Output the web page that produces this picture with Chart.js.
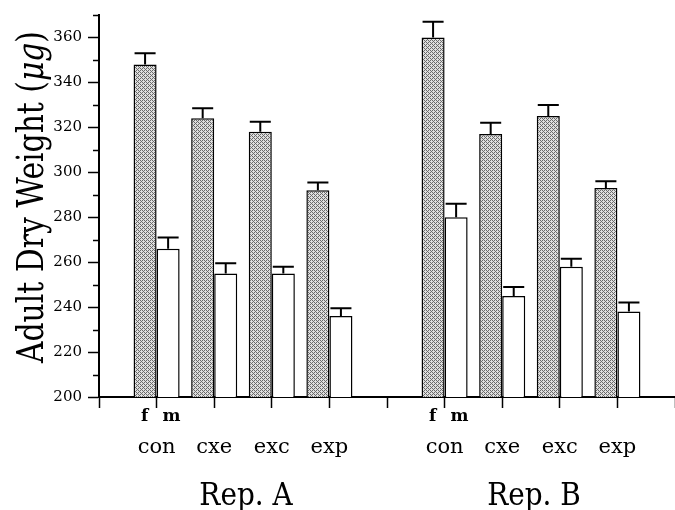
<!DOCTYPE html>
<html>
<head>
<meta charset="utf-8">
<script src="https://cdn.jsdelivr.net/npm/chart.js@4"></script>
<style>
  body { margin: 0; background: #fff; }
  #wrap { width: 675px; height: 510px; }
</style>
</head>
<body>
<div id="wrap"><canvas id="weightChart"></canvas></div>
<script>
var groups = ['con', 'cxe', 'exc', 'exp'];
var reps = ['Rep. A', 'Rep. B'];
var femaleA = [348, 324, 318, 292];
var femaleAErr = [5, 4.5, 4.5, 3.5];
var maleA = [266, 255, 255, 236];
var maleAErr = [5, 4.5, 3, 3.5];
var femaleB = [360, 317, 325, 293];
var femaleBErr = [7, 5, 5, 3];
var maleB = [280, 245, 258, 238];
var maleBErr = [6, 4, 3.5, 4];
var yTicks = [200, 220, 240, 260, 280, 300, 320, 340, 360];

// blank slot, Rep A groups, blank slot, Rep B groups, blank slot
function slots(a, b) { return [null].concat(a, [null], b, [null]); }
var labels = slots(groups, groups).map(function(l) { return l || ''; });
var femaleVals = slots(femaleA, femaleB);
var maleVals = slots(maleA, maleB);
var errs = [slots(femaleAErr, femaleBErr), slots(maleAErr, maleBErr)];

// dithered grey like the printed halftone
var bayer = [[0, 8, 2, 10], [12, 4, 14, 6], [3, 11, 1, 9], [15, 7, 13, 5]];
var pc = document.createElement('canvas');
pc.width = 4; pc.height = 4;
var pctx = pc.getContext('2d');
for (var r = 0; r < 4; r++) {
    for (var c = 0; c < 4; c++) {
        pctx.fillStyle = bayer[r][c] < 6 ? '#6a6a6a' : '#dedede';
        pctx.fillRect(c, r, 1, 1);
    }
}
var stipple = pctx.createPattern(pc, 'repeat');

var SERIF = '"DejaVu Serif", "Liberation Serif", serif';

var extras = {
    id: 'extras',
    afterDatasetsDraw: function(chart) {
        var ctx = chart.ctx, x = chart.scales.x, y = chart.scales.y, area = chart.chartArea;
        ctx.save();
        ctx.strokeStyle = '#000';

        // minor y ticks
        ctx.lineWidth = 1.5;
        for (var v = 210; v <= 370; v += 10) {
            if (yTicks.indexOf(v) >= 0) continue;
            var yp = Math.round(y.getPixelForValue(v)) + 0.5;
            ctx.beginPath(); ctx.moveTo(area.left - 6, yp); ctx.lineTo(area.left, yp); ctx.stroke();
        }

        // error bars (upper only)
        var vals = [femaleVals, maleVals];
        ctx.lineWidth = 2;
        for (var d = 0; d < 2; d++) {
            chart.getDatasetMeta(d).data.forEach(function(bar, i) {
                if (vals[d][i] == null) return;
                var top = y.getPixelForValue(vals[d][i] + errs[d][i]);
                var half = bar.width / 2 - 1;
                ctx.beginPath();
                ctx.moveTo(bar.x, bar.y); ctx.lineTo(bar.x, top);
                ctx.moveTo(bar.x - half, top); ctx.lineTo(bar.x + half, top);
                ctx.stroke();
            });
        }

        // category labels
        ctx.fillStyle = '#000';
        ctx.textAlign = 'center';
        ctx.textBaseline = 'alphabetic';
        labels.forEach(function(l, i) {
            if (!l) return;
            var xp = x.getPixelForValue(i);
            if (l === 'con') {
                ctx.font = 'bold 17px ' + SERIF;
                ctx.fillText('f', xp - 12, area.bottom + 24);
                ctx.fillText('m', xp + 15, area.bottom + 24);
            }
            ctx.font = '21px ' + SERIF;
            ctx.fillText(l, xp, area.bottom + 56);
        });

        // replicate labels
        ctx.font = '31px ' + SERIF;
        reps.forEach(function(r, k) {
            var first = 1 + k * 5, last = first + groups.length - 1;
            var cx = (x.getPixelForValue(first) + x.getPixelForValue(last)) / 2 + 3;
            ctx.save();
            ctx.translate(cx, area.bottom + 108);
            ctx.scale(0.9, 1);
            ctx.fillText(r, 0, 0);
            ctx.restore();
        });

        // y axis title with italic unit
        var t1 = 'Adult Dry Weight (', t2 = '\u03bcg', t3 = ')';
        ctx.font = '37px ' + SERIF;
        var w1 = ctx.measureText(t1).width, w3 = ctx.measureText(t3).width;
        ctx.font = 'italic 37px ' + SERIF;
        var w2 = ctx.measureText(t2).width;
        var total = w1 + w2 + w3;
        ctx.translate(43, (area.top + area.bottom) / 2 - 9);
        ctx.rotate(-Math.PI / 2);
        ctx.scale(332 / total, 1);
        ctx.textAlign = 'left';
        ctx.font = '37px ' + SERIF;
        ctx.fillText(t1, -total / 2, 0);
        ctx.font = 'italic 37px ' + SERIF;
        ctx.fillText(t2, -total / 2 + w1, 0);
        ctx.font = '37px ' + SERIF;
        ctx.fillText(t3, -total / 2 + w1 + w2, 0);
        ctx.restore();
    }
};

var ctx = document.getElementById('weightChart').getContext('2d');
var weightChart = new Chart(ctx, {
    type: 'bar',
    data: {
        labels: labels,
        datasets: [{
            label: 'f',
            data: femaleVals,
            backgroundColor: stipple,
            borderColor: '#000',
            borderWidth: 1.5
        }, {
            label: 'm',
            data: maleVals,
            backgroundColor: '#fff',
            borderColor: '#000',
            borderWidth: 1.5
        }]
    },
    options: {
        responsive: true,
        maintainAspectRatio: false,
        animation: false,
        layout: { padding: { top: 13, right: 0, left: 0, bottom: 0 } },
        datasets: { bar: { barPercentage: 1, categoryPercentage: 0.8 } },
        plugins: {
            legend: { display: false },
            tooltip: { enabled: false }
        },
        scales: {
            x: {
                offset: false,
                grid: { offset: false, drawOnChartArea: false, tickLength: 11, tickColor: '#000', tickWidth: 1.5 },
                border: { color: '#000', width: 2 },
                ticks: { display: false, autoSkip: false },
                afterFit: function(s) { s.height = 113; }
            },
            y: {
                min: 200,
                max: 370,
                grid: {
                    drawOnChartArea: false,
                    tickLength: 11,
                    tickWidth: 1.5,
                    tickColor: function(c) { return yTicks.indexOf(c.tick.value) >= 0 ? '#000' : 'rgba(0,0,0,0)'; }
                },
                border: { color: '#000', width: 2 },
                ticks: {
                    stepSize: 10,
                    padding: 6,
                    color: '#000',
                    font: { family: SERIF, size: 15 },
                    callback: function(v) { return yTicks.indexOf(v) >= 0 ? v : ''; }
                },
                afterFit: function(s) { s.width = 99; }
            }
        }
    },
    plugins: [extras]
});
</script>
</body>
</html>
